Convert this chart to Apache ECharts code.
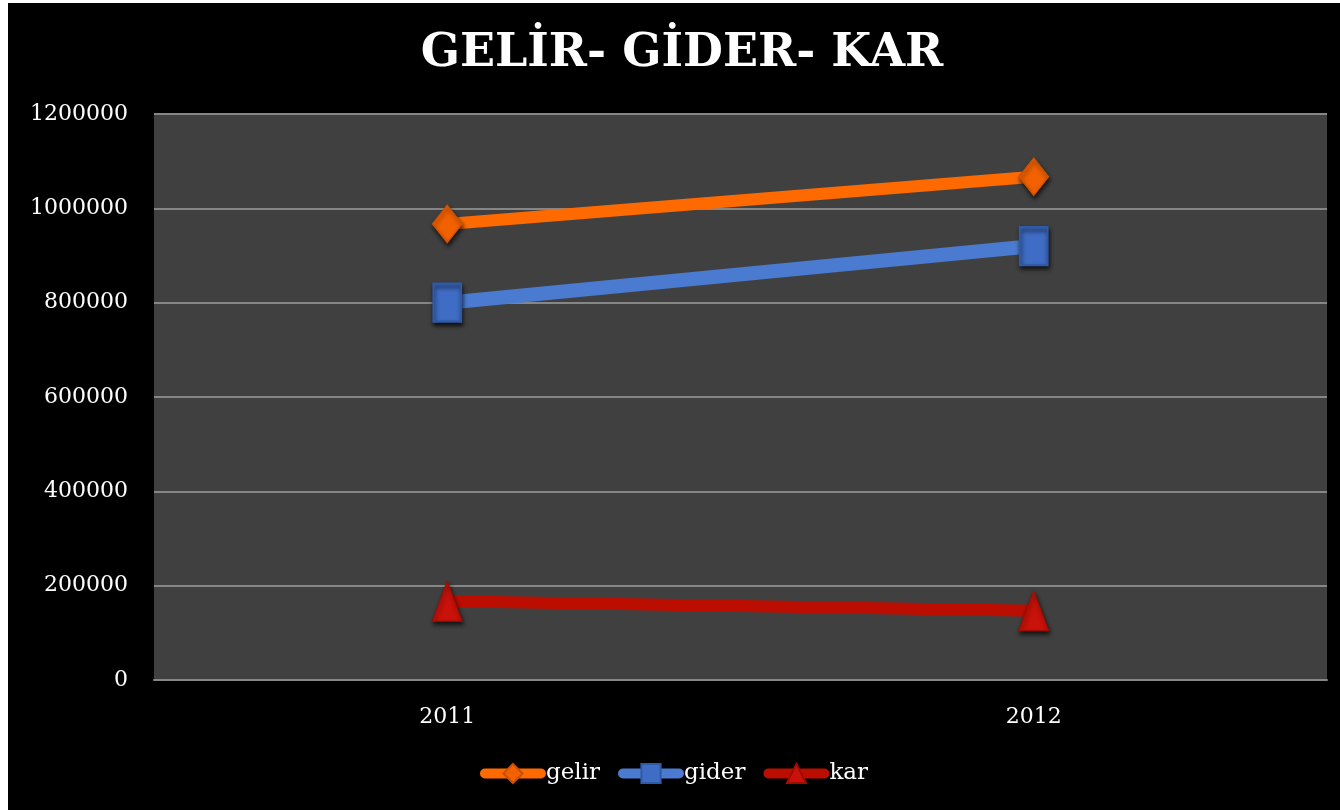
<!DOCTYPE html>
<html>
<head>
<meta charset="utf-8">
<script src="https://cdn.jsdelivr.net/npm/echarts@6/dist/echarts.min.js"></script>
<style>
html,body{margin:0;padding:0;background:#ffffff;width:1340px;height:810px;overflow:hidden;}
#chart{position:absolute;left:8px;top:3px;width:1332px;height:807px;background:#000000;}
</style>
</head>
<body>
<div id="chart"></div>
<script>
const categories = ['2011', '2012'];
const gelir = [967000, 1067000];
const gider = [800000, 920000];
const kar = [167000, 147000];
const yTicks = [0, 200000, 400000, 600000, 800000, 1000000, 1200000];

const chart = echarts.init(document.getElementById('chart'), null, {renderer: 'canvas'});
const font = '"DejaVu Serif", "Liberation Serif", serif';
const shadow = {shadowBlur: 4, shadowColor: 'rgba(0,0,0,0.7)', shadowOffsetX: 1, shadowOffsetY: 3};

chart.setOption({
  backgroundColor: '#000000',
  animation: false,
  title: {
    text: 'GELİR- GİDER- KAR',
    left: 669, top: 23, textAlign: 'center',
    textStyle: {color: '#ffffff', fontFamily: font, fontWeight: 'bold', fontSize: 46}
  },
  grid: {
    left: 146, top: 111, right: 13, bottom: 130,
    show: true, backgroundColor: '#404040', borderWidth: 0
  },
  legend: {
    bottom: 20, left: 'center',
    itemWidth: 56, itemHeight: 24, itemGap: 18,
    lineStyle: {width: 10, cap: 'round'},
    textStyle: {color: '#ffffff', fontFamily: font, fontSize: 23, padding: [0, 0, 0, 0]},
    data: ['gelir', 'gider', 'kar']
  },
  xAxis: {
    type: 'category', data: categories, boundaryGap: true,
    axisLine: {show: true, lineStyle: {color: '#868686', width: 2}},
    axisTick: {show: false},
    axisLabel: {color: '#ffffff', fontFamily: font, fontSize: 22, margin: 26}
  },
  yAxis: {
    type: 'value', min: 0, max: 1200000, interval: 200000,
    axisLine: {show: false}, axisTick: {show: false},
    splitLine: {lineStyle: {color: '#868686', width: 2}},
    axisLabel: {color: '#ffffff', fontFamily: font, fontSize: 22, margin: 26,
      formatter: v => yTicks.includes(v) ? String(v) : ''}
  },
  series: [
    {
      name: 'gelir', type: 'line', data: gelir,
      symbol: 'diamond', symbolSize: [30, 38],
      lineStyle: {color: '#ff6a00', width: 12},
      itemStyle: Object.assign({color: '#f26100', borderColor: '#c84f00', borderWidth: 1}, shadow),
      color: '#ff6a00'
    },
    {
      name: 'gider', type: 'line', data: gider,
      symbol: 'rect', symbolSize: [28, 38],
      lineStyle: {color: '#4a7bd0', width: 14},
      itemStyle: Object.assign({color: '#3f6cc4', borderColor: '#2f5aa8', borderWidth: 2}, shadow),
      color: '#4a7bd0'
    },
    {
      name: 'kar', type: 'line', data: kar,
      symbol: 'triangle', symbolSize: [30, 40],
      lineStyle: {color: '#bb0e00', width: 12},
      itemStyle: Object.assign({color: '#c8120a', borderColor: '#a00c00', borderWidth: 1}, shadow),
      color: '#bb0e00'
    }
  ]
});
</script>
</body>
</html>
